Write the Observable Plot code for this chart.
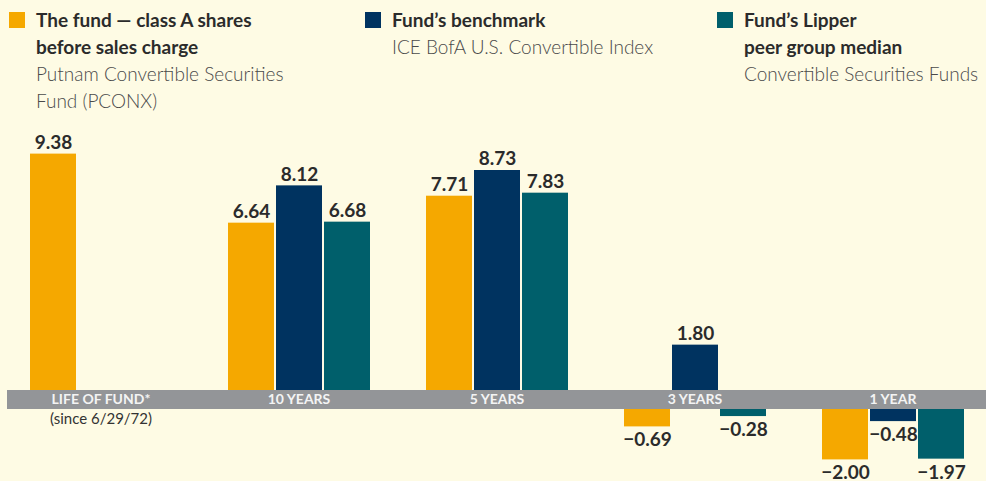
<!DOCTYPE html>
<html>
<head>
<meta charset="utf-8">
<script src="https://cdn.jsdelivr.net/npm/d3@7"></script>
<script src="https://cdn.jsdelivr.net/npm/@observablehq/plot@0.6"></script>
<style>
  html, body { margin: 0; padding: 0; background: #fefbe4; }
  body { width: 986px; height: 481px; overflow: hidden; font-family: Lato, "Open Sans", sans-serif; }
  #legend { position: relative; height: 120px; }
  .item { position: absolute; top: 6px; }
  .sw { position: absolute; top: 6px; width: 16px; height: 16px; }
  .txt { position: absolute; top: 0; font-size: 19px; line-height: 27px; white-space: nowrap; }
  .b { font-weight: 700; color: #2b2b2b; }
  .s { font-weight: 300; color: #4a4a4a; }
  #chart svg { display: block; }
</style>
</head>
<body>
<div id="legend"></div>
<div id="chart"></div>
<script>
const categories = ["LIFE OF FUND*", "10 YEARS", "5 YEARS", "3 YEARS", "1 YEAR"];
const categoryNotes = ["(since 6/29/72)", "", "", "", ""];
const seriesNames = ["fund", "benchmark", "peer"];
const fundValues = [9.38, 6.64, 7.71, -0.69, -2.00];
const benchmarkValues = [null, 8.12, 8.73, 1.80, -0.48];
const peerValues = [null, 6.68, 7.83, -0.28, -1.97];
const seriesColors = ["#f5a800", "#003360", "#005f6b"];
const legendTitles = [["The fund \u2014 class A shares", "before sales charge"], ["Fund\u2019s benchmark"], ["Fund\u2019s Lipper", "peer group median"]];
const legendSubtitles = [["Putnam Convertible Securities", "Fund (PCONX)"], ["ICE BofA U.S. Convertible Index"], ["Convertible Securities Funds"]];

const GAP = 0.754; // height of the category band, in value units

const allValues = [fundValues, benchmarkValues, peerValues];
const rows = [];
categories.forEach((c, i) => {
  seriesNames.forEach((s, j) => {
    const v = allValues[j][i];
    if (v != null) rows.push({category: c, note: categoryNotes[i], series: s, value: v});
  });
});

// Legend
const legendLeft = [9, 365, 717];
const legend = document.getElementById("legend");
seriesNames.forEach((s, j) => {
  const item = document.createElement("div");
  item.className = "item";
  item.style.left = legendLeft[j] + "px";
  const sw = document.createElement("div");
  sw.className = "sw";
  sw.style.background = seriesColors[j];
  sw.style.left = "0px";
  item.appendChild(sw);
  const t = document.createElement("div");
  t.className = "txt";
  t.style.left = "27px";
  t.style.top = "0px";
  legendTitles[j].forEach(line => { const d = document.createElement("div"); d.className = "b"; d.textContent = line; t.appendChild(d); });
  legendSubtitles[j].forEach(line => { const d = document.createElement("div"); d.className = "s"; d.textContent = line; t.appendChild(d); });
  item.appendChild(t);
  legend.appendChild(item);
});

const fmt = d3.format(".2f");
const y1 = d => d.value >= 0 ? 0 : -GAP;
const y2 = d => d.value >= 0 ? d.value : d.value - GAP;

const plot = Plot.plot({
  width: 986,
  height: 361,
  marginLeft: 28,
  marginRight: 20,
  marginTop: 0,
  marginBottom: 0,
  style: {background: "transparent", fontFamily: "Lato, 'Open Sans', sans-serif"},
  facet: {data: rows, x: "category"},
  fx: {domain: categories, paddingInner: 0.277, paddingOuter: 0, axis: null, label: null},
  x: {domain: seriesNames, paddingInner: 0.05, paddingOuter: 0, axis: null},
  y: {domain: [-3.611, 10.714], axis: null},
  color: {domain: seriesNames, range: seriesColors},
  marks: [
    Plot.rectY(rows, {x: "series", y1, y2, fill: "series"}),
    Plot.text(rows, {filter: d => d.value >= 0, x: "series", y: y2, text: d => fmt(d.value), lineAnchor: "bottom", dy: -5, fontSize: 19, fontWeight: 700, fill: "#2b2b2b"}),
    Plot.text(rows, {filter: d => d.value < 0, x: "series", y: y2, text: d => fmt(d.value), lineAnchor: "top", dy: 6, fontSize: 19, fontWeight: 700, fill: "#2b2b2b"}),
    Plot.text(rows, {filter: d => d.series === seriesNames[0], y: -GAP / 2, text: "category", lineAnchor: "middle", fontSize: 14, fontWeight: 700, fill: "#f4f4f4"}),
    Plot.text(rows, {filter: d => d.series === seriesNames[0] && d.note, y: -GAP, text: "note", lineAnchor: "top", dy: 4, fontSize: 15, fill: "#333"})
  ]
});

// category band, placed with Plot's y scale
const ys = plot.scale("y");
const top0 = ys.apply(0), bot0 = ys.apply(-GAP);
d3.select(plot).insert("rect", ":first-child")
  .attr("x", 7).attr("width", 979)
  .attr("y", top0).attr("height", bot0 - top0)
  .attr("fill", "#939598");

document.getElementById("chart").appendChild(plot);
</script>
</body>
</html>
